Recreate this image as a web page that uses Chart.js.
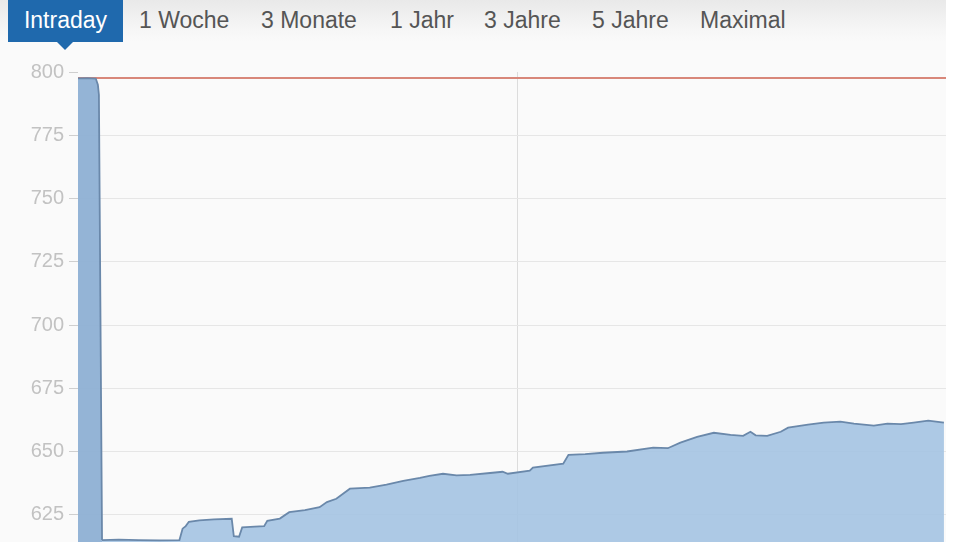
<!DOCTYPE html>
<html>
<head>
<meta charset="utf-8">
<script src="https://cdn.jsdelivr.net/npm/chart.js@4/dist/chart.umd.min.js"></script>
<style>
  html, body { margin: 0; padding: 0; width: 960px; height: 542px; overflow: hidden; background: #fafafa; font-family: "Liberation Sans", Arial, sans-serif; }
  #edge { position: absolute; left: 946px; top: 0; width: 14px; height: 542px; background: #fff; }
  #bar { position: absolute; left: 0; top: 0; width: 946px; height: 42px; background: linear-gradient(#e9e9e9, #f6f6f6 70%, #fafafa); z-index: 2; }
  .tab { position: absolute; top: 0; height: 42px; line-height: 40px; font-size: 23px; color: #555; white-space: nowrap; }
  .tab.active { left: 8px; width: 115px; background: #1f69ad; color: #fff; text-align: center; }
  .tab.active::after { content: ""; position: absolute; left: 49px; top: 42px; border-left: 8px solid transparent; border-right: 8px solid transparent; border-top: 8px solid #1f69ad; }
  #wrap { position: absolute; left: 0; top: 0; width: 960px; height: 595px; }
</style>
</head>
<body>
<div id="edge"></div>
<div id="bar">
  <div class="tab active">Intraday</div>
  <div class="tab" style="left:139px">1 Woche</div>
  <div class="tab" style="left:261px">3 Monate</div>
  <div class="tab" style="left:390px">1 Jahr</div>
  <div class="tab" style="left:484px">3 Jahre</div>
  <div class="tab" style="left:592px">5 Jahre</div>
  <div class="tab" style="left:700px">Maximal</div>
</div>
<div id="wrap"><canvas id="chart"></canvas></div>
<script>
// intraday quotes (time of day, price)
const times = [
  '08:00', '08:09', '08:17', '08:19', '08:20', '08:23', '08:39', '08:58', '09:18', '09:37',
  '09:40', '09:43', '09:46', '09:56', '10:10', '10:27', '10:29', '10:34', '10:37', '10:49',
  '10:58', '11:01', '11:13', '11:22', '11:37', '11:51', '11:58', '12:07', '12:20', '12:39',
  '12:55', '13:11', '13:27', '13:36', '13:49', '14:02', '14:15', '14:34', '14:46', '14:51',
  '15:12', '15:15', '15:44', '15:49', '16:05', '16:22', '16:45', '17:10', '17:24', '17:36',
  '17:52', '18:08', '18:24', '18:36', '18:43', '18:48', '18:59', '19:12', '19:19', '19:38',
  '19:53', '20:09', '20:22', '20:41', '20:54', '21:07', '21:19', '21:33', '21:48'
];
const prices = [
  797.5, 797.6, 797.4, 795.0, 791.0, 615.0, 615.2, 615.0, 614.9, 615.0,
  619.5, 620.5, 622.2, 622.8, 623.2, 623.4, 616.5, 616.3, 620.0, 620.3,
  620.5, 622.6, 623.5, 626.0, 626.8, 628.0, 630.0, 631.3, 635.3, 635.7,
  636.9, 638.4, 639.6, 640.4, 641.2, 640.6, 640.8, 641.5, 642.0, 641.2,
  642.4, 643.6, 645.2, 648.7, 649.0, 649.5, 650.0, 651.5, 651.3, 653.5,
  655.8, 657.4, 656.6, 656.2, 657.8, 656.4, 656.2, 657.8, 659.4, 660.6,
  661.4, 661.8, 661.0, 660.2, 661.0, 660.8, 661.4, 662.2, 661.4
];
const prevClose = 797.6;
const yTicks = [600, 625, 650, 675, 700, 725, 750, 775, 800];

const toMin = t => {
  const [h, m] = t.split(':').map(Number);
  return h * 60 + m;
};
const dayStart = toMin('08:00');
const dayEnd = toMin('21:50');

const ctx = document.getElementById('chart').getContext('2d');

new Chart(ctx, {
  type: 'line',
  data: {
    datasets: [
      {
        label: 'Kurs',
        data: times.map((t, i) => ({ x: toMin(t), y: prices[i] })),
        borderColor: '#6a88aa',
        borderWidth: 1.8,
        backgroundColor: 'rgba(164,195,226,0.9)',
        segment: {
          backgroundColor: c => c.p1DataIndex <= 5 ? 'rgba(142,176,212,0.95)' : undefined
        },
        fill: 'start',
        pointRadius: 0,
        tension: 0,
        order: 1
      },
      {
        label: 'Vortag',
        data: [{ x: dayStart, y: prevClose }, { x: dayEnd, y: prevClose }],
        borderColor: '#d8877a',
        borderWidth: 2,
        pointRadius: 0,
        fill: false,
        order: 2
      }
    ]
  },
  options: {
    responsive: true,
    maintainAspectRatio: false,
    animation: false,
    events: [],
    layout: {
      padding: { top: 72, right: 14, left: 0, bottom: 0 }
    },
    scales: {
      x: {
        type: 'linear',
        min: dayStart,
        max: dayEnd,
        afterBuildTicks: axis => { axis.ticks = [{ value: toMin('15:00') }]; },
        grid: { color: '#dcdcdc', drawTicks: false },
        border: { display: false },
        ticks: { display: false }
      },
      y: {
        min: 600,
        max: 800,
        afterBuildTicks: axis => { axis.ticks = yTicks.map(v => ({ value: v })); },
        afterFit: axis => { axis.width = 78; },
        grid: {
          color: c => c.tick && c.tick.value === 800 ? 'rgba(0,0,0,0)' : '#e6e6e6',
          tickColor: '#cfcfcf',
          tickLength: 9
        },
        border: { display: false },
        ticks: {
          padding: 5,
          color: '#c2c2c2',
          font: { family: '"Liberation Sans", Arial, sans-serif', size: 20 }
        }
      }
    },
    plugins: {
      legend: { display: false },
      tooltip: { enabled: false }
    }
  }
});
</script>
</body>
</html>
